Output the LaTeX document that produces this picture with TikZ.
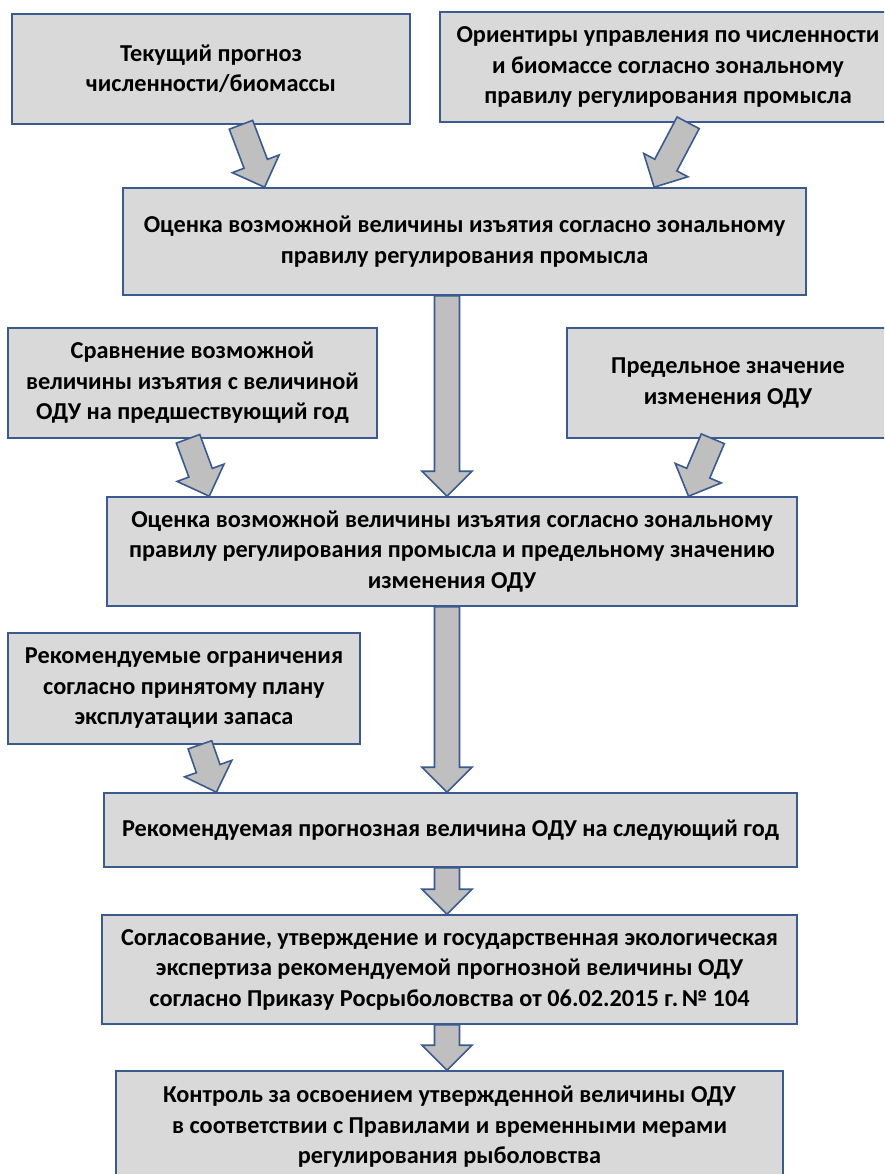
\documentclass[tikz,border=0pt]{standalone}
\usepackage{fontspec}
\setmainfont{Carlito}
\usetikzlibrary{calc,positioning}
\definecolor{boxfill}{HTML}{D9D9D9}
\definecolor{boxline}{HTML}{3B5A8F}
\definecolor{arrfill}{HTML}{BFBFBF}
\tikzset{
  blk/.style={draw=boxline,line width=1.6pt,fill=boxfill,align=center,inner sep=0pt,
    font=\bfseries\fontsize{24.3}{30.5}\selectfont},
  fat/.style={draw=boxline,line width=1.6pt,fill=arrfill,line join=miter}
}
% block arrow from #1 to #2
\newcommand\fatarrow[2]{%
  \coordinate (fs) at #1;
  \coordinate (fe) at #2;
  \coordinate (fb) at ($(fe)!25pt!(fs)$);
  \draw[fat] ($(fs)!12.5pt!90:(fe)$) -- ($(fb)!12.5pt!90:(fe)$) -- ($(fb)!25pt!90:(fe)$)
    -- (fe) -- ($(fb)!25pt!-90:(fe)$) -- ($(fb)!12.5pt!-90:(fe)$) -- ($(fs)!12.5pt!-90:(fe)$) -- cycle;
}

\begin{document}
\begin{tikzpicture}[x=1pt,y=-1pt]
\clip (0,0) rectangle (884,1174);
\fill[white] (0,0) rectangle (884,1174);
\coordinate (axis) at (447,0);

\node[blk,minimum width=398pt,minimum height=110pt] (cur) at (211,69)
  {Текущий прогноз\\численности/биомассы};
\node[blk,minimum width=456pt,minimum height=110pt] (ref) at (668,67)
  {Ориентиры управления по численности\\и биомассе согласно зональному\\правилу регулирования промысла};
\node[blk,minimum width=683pt,minimum height=107pt] (est) at (464.5,241.5)
  {Оценка возможной величины изъятия согласно зональному\\правилу регулирования промысла};
\node[blk,minimum width=369pt,minimum height=110pt] (cmp) at (192.5,383)
  {Сравнение возможной\\величины изъятия с величиной\\ОДУ на предшествующий год};
\node[blk,minimum width=322pt,minimum height=110pt] (lim) at (728,383)
  {Предельное значение\\изменения ОДУ};
\node[blk,minimum width=690pt,minimum height=109pt] (est2) at (452,551.5)
  {Оценка возможной величины изъятия согласно зональному\\правилу регулирования промысла и предельному значению\\изменения ОДУ};
\node[blk,minimum width=352pt,minimum height=111pt] (plan) at (184,688.5)
  {Рекомендуемые ограничения\\согласно принятому плану\\эксплуатации запаса};
\node[blk,minimum width=693pt,minimum height=74pt] (rec) at (450.5,830)
  {Рекомендуемая прогнозная величина ОДУ на следующий год};
\node[blk,minimum width=695pt,minimum height=109pt] (appr) at (449.5,969.5)
  {Согласование, утверждение и государственная экологическая\\экспертиза рекомендуемой прогнозной величины ОДУ\\согласно Приказу Росрыболовства от 06.02.2015 г. \kern-4pt№ 104};
\node[blk,minimum width=667pt,minimum height=112pt] (ctrl) at (449.5,1127)
  {Контроль за освоением утвержденной величины ОДУ\\в соответствии с Правилами и временными мерами\\регулирования рыболовства};

\fatarrow{($(cur.south west)!0.575!(cur.south east)$)}{($(est.north west)!0.208!(est.north east)$)}
\fatarrow{($(ref.south west)!0.544!(ref.south east)$)}{($(est.north west)!0.777!(est.north east)$)}
\fatarrow{(est.south -| axis)}{(est2.north -| axis)}
\fatarrow{($(cmp.south west)!0.488!(cmp.south east)$)}{($(est2.north west)!0.149!(est2.north east)$)}
\fatarrow{($(lim.south west)!0.453!(lim.south east)$)}{($(est2.north west)!0.842!(est2.north east)$)}
\fatarrow{(est2.south -| axis)}{(rec.north -| axis)}
\fatarrow{($(plan.south west)!0.545!(plan.south east)$)}{($(rec.north west)!0.163!(rec.north east)$)}
\fatarrow{(rec.south -| axis)}{(appr.north -| axis)}
\fatarrow{(appr.south -| axis)}{(ctrl.north -| axis)}
\end{tikzpicture}
\end{document}
